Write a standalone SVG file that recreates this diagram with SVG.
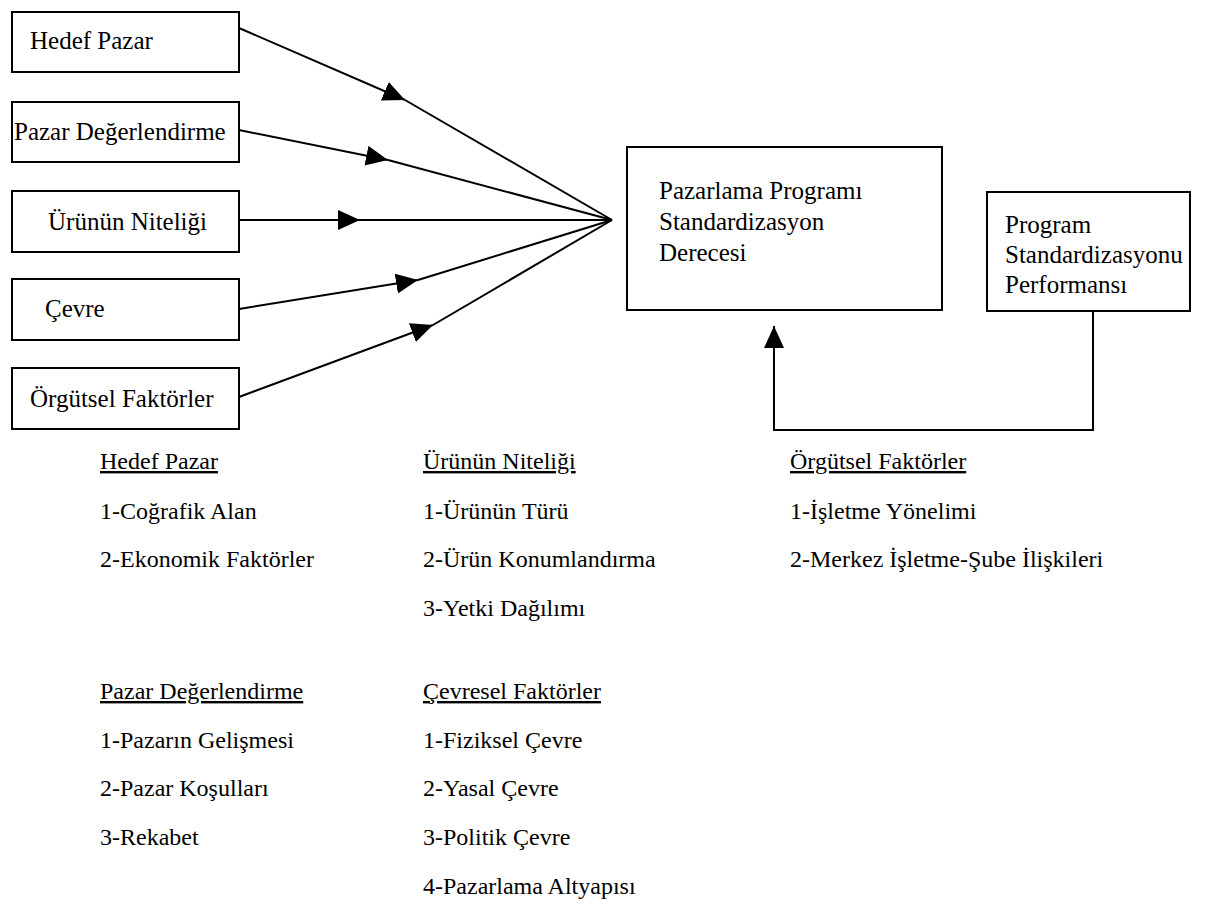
<svg xmlns="http://www.w3.org/2000/svg" width="1217" height="905" viewBox="0 0 1217 905">
<style>
.box{fill:#fff;stroke:#000;stroke-width:2}
.t{font-family:"Liberation Serif","Times New Roman",serif;font-size:25px;fill:#000}
.l{font-family:"Liberation Serif","Times New Roman",serif;font-size:24px;fill:#000}
.u{text-decoration:underline}
.c{fill:none;stroke:#000;stroke-width:2}
</style>
<defs>
<marker id="ah" markerUnits="userSpaceOnUse" markerWidth="24" markerHeight="22" refX="22" refY="10" orient="auto">
<path d="M0,0 L22,10 L0,20 Z" fill="#000"/>
</marker>
</defs>
<rect width="1217" height="905" fill="#fff"/>
<g id="connectors">
<path class="c" d="M239,28 L405,100" marker-end="url(#ah)"/>
<path class="c" d="M405,100 L612,220"/>
<path class="c" d="M239,130 L388,160" marker-end="url(#ah)"/>
<path class="c" d="M388,160 L612,220"/>
<path class="c" d="M239,220 L360,220" marker-end="url(#ah)"/>
<path class="c" d="M360,220 L612,220"/>
<path class="c" d="M239,309 L418,280" marker-end="url(#ah)"/>
<path class="c" d="M418,280 L612,220"/>
<path class="c" d="M239,397 L433,325" marker-end="url(#ah)"/>
<path class="c" d="M433,325 L612,220"/>
<path class="c" d="M1093,311 L1093,430 L774,430 L774,326" marker-end="url(#ah)"/>
</g>
<g id="n-hedef-pazar"><rect class="box" x="12" y="12" width="227" height="60"/><text class="t" x="30" y="49">Hedef Pazar</text></g>
<g id="n-pazar-degerlendirme"><rect class="box" x="12" y="102" width="227" height="60"/><text class="t" x="14" y="140">Pazar Değerlendirme</text></g>
<g id="n-urunun-niteligi"><rect class="box" x="12" y="191" width="227" height="61"/><text class="t" x="48" y="230">Ürünün Niteliği</text></g>
<g id="n-cevre"><rect class="box" x="12" y="279" width="227" height="61"/><text class="t" x="45" y="317">Çevre</text></g>
<g id="n-orgutsel"><rect class="box" x="12" y="368" width="227" height="61"/><text class="t" x="30" y="407">Örgütsel Faktörler</text></g>
<g id="n-standardizasyon-derecesi"><rect class="box" x="627" y="147" width="315" height="163"/>
<text class="t" x="659" y="199">Pazarlama Programı</text>
<text class="t" x="659" y="230">Standardizasyon</text>
<text class="t" x="659" y="261">Derecesi</text></g>
<g id="n-performans"><rect class="box" x="987" y="192" width="203" height="119"/>
<text class="t" x="1005" y="233">Program</text>
<text class="t" x="1005" y="263">Standardizasyonu</text>
<text class="t" x="1005" y="293">Performansı</text></g>
<g id="list-hedef-pazar">
<text class="l u" x="100" y="469">Hedef Pazar</text>
<text class="l" x="100" y="519">1-Coğrafik Alan</text>
<text class="l" x="100" y="567">2-Ekonomik Faktörler</text>
</g>
<g id="list-urunun-niteligi">
<text class="l u" x="423" y="469">Ürünün Niteliği</text>
<text class="l" x="423" y="519">1-Ürünün Türü</text>
<text class="l" x="423" y="567">2-Ürün Konumlandırma</text>
<text class="l" x="423" y="616">3-Yetki Dağılımı</text>
</g>
<g id="list-orgutsel">
<text class="l u" x="790" y="469">Örgütsel Faktörler</text>
<text class="l" x="790" y="519">1-İşletme Yönelimi</text>
<text class="l" x="790" y="567">2-Merkez İşletme-Şube İlişkileri</text>
</g>
<g id="list-pazar-degerlendirme">
<text class="l u" x="100" y="699">Pazar Değerlendirme</text>
<text class="l" x="100" y="748">1-Pazarın Gelişmesi</text>
<text class="l" x="100" y="796">2-Pazar Koşulları</text>
<text class="l" x="100" y="845">3-Rekabet</text>
</g>
<g id="list-cevresel">
<text class="l u" x="423" y="699">Çevresel Faktörler</text>
<text class="l" x="423" y="748">1-Fiziksel Çevre</text>
<text class="l" x="423" y="796">2-Yasal Çevre</text>
<text class="l" x="423" y="845">3-Politik Çevre</text>
<text class="l" x="423" y="894">4-Pazarlama Altyapısı</text>
</g>
</svg>
